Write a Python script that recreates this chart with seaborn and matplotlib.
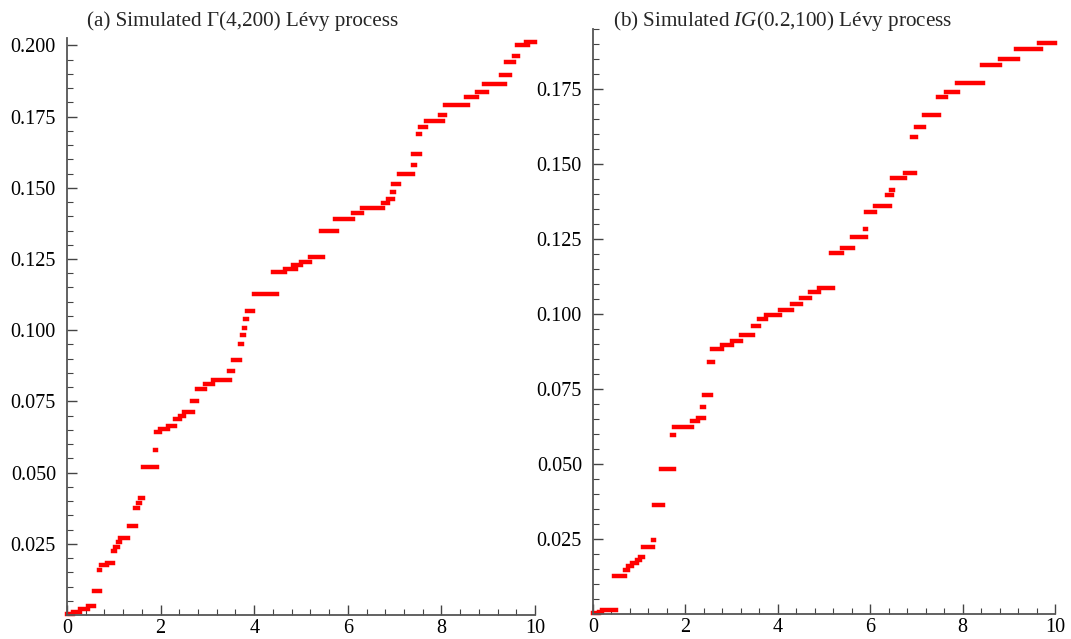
import numpy as np
import pandas as pd
import matplotlib
matplotlib.use("Agg")
import matplotlib.pyplot as plt
import seaborn as sns
from matplotlib.ticker import MultipleLocator

# ---- Panel (a): simulated Gamma(4,200) Levy process, read as flat runs ----
a_start = [0.00, 0.12, 0.28, 0.45, 0.58, 0.68, 0.72, 0.85, 0.98, 1.03, 1.08, 1.13,
           1.32, 1.45, 1.52, 1.57, 1.63, 1.88, 1.90, 1.98, 2.15, 2.30, 2.42, 2.50,
           2.68, 2.78, 2.95, 3.12, 3.46, 3.55, 3.70, 3.74, 3.78, 3.81, 3.84, 4.00,
           4.40, 4.65, 4.83, 5.00, 5.20, 5.42, 5.72, 6.12, 6.30, 6.75, 6.85, 6.95,
           6.97, 7.10, 7.40, 7.40, 7.50, 7.55, 7.67, 7.97, 8.08, 8.53, 8.75, 8.92,
           9.27, 9.38, 9.55, 9.62, 9.80]
a_end = [0.12, 0.28, 0.45, 0.58, 0.70, 0.70, 0.85, 0.98, 1.03, 1.08, 1.13, 1.30,
         1.47, 1.52, 1.57, 1.63, 1.92, 1.90, 1.98, 2.15, 2.30, 2.42, 2.50, 2.70,
         2.78, 2.95, 3.12, 3.48, 3.55, 3.70, 3.74, 3.78, 3.81, 3.84, 3.98, 4.49,
         4.65, 4.90, 5.00, 5.20, 5.47, 5.77, 6.12, 6.30, 6.75, 6.85, 6.97, 6.99,
         7.10, 7.40, 7.43, 7.55, 7.55, 7.67, 8.03, 8.08, 8.57, 8.75, 8.97, 9.36,
         9.47, 9.55, 9.64, 9.85, 10.00]
a_level = [0.0005, 0.0012, 0.0020, 0.0030, 0.0085, 0.0159, 0.0175, 0.0183, 0.0225,
           0.0240, 0.0255, 0.0270, 0.0313, 0.0375, 0.0395, 0.0412, 0.0520, 0.0580,
           0.0643, 0.0653, 0.0662, 0.0688, 0.0700, 0.0712, 0.0750, 0.0795, 0.0810,
           0.0825, 0.0855, 0.0895, 0.0950, 0.0982, 0.1007, 0.1040, 0.1068, 0.1126,
           0.1205, 0.1215, 0.1228, 0.1240, 0.1256, 0.1348, 0.1390, 0.1412, 0.1428,
           0.1445, 0.1462, 0.1487, 0.1515, 0.1550, 0.1580, 0.1620, 0.1690, 0.1712,
           0.1733, 0.1757, 0.1790, 0.1820, 0.1838, 0.1865, 0.1897, 0.1942, 0.1963,
           0.2000, 0.2012]

# ---- Panel (b): simulated IG(0.2,100) Levy process ----
b_start = [0.00, 0.12, 0.20, 0.45, 0.69, 0.75, 0.85, 0.95, 1.02, 1.08, 1.29, 1.31,
           1.48, 1.72, 1.76, 2.14, 2.28, 2.37, 2.40, 2.50, 2.57, 2.80, 3.00, 3.20,
           3.46, 3.60, 3.75, 4.05, 4.30, 4.50, 4.70, 4.90, 5.15, 5.40, 5.60, 5.88,
           5.91, 6.10, 6.36, 6.46, 6.48, 6.75, 6.90, 7.00, 7.17, 7.46, 7.65, 7.88,
           8.42, 8.80, 9.15, 9.65]
b_end = [0.12, 0.20, 0.50, 0.69, 0.75, 0.85, 0.95, 1.02, 1.08, 1.30, 1.31, 1.52,
         1.75, 1.75, 2.14, 2.28, 2.40, 2.41, 2.55, 2.60, 2.80, 3.00, 3.20, 3.46,
         3.60, 3.75, 4.05, 4.30, 4.50, 4.70, 4.90, 5.20, 5.40, 5.63, 5.90, 5.91,
         6.10, 6.43, 6.47, 6.49, 6.75, 6.97, 7.00, 7.17, 7.49, 7.65, 7.90, 8.44,
         8.80, 9.20, 9.70, 10.00]
b_level = [0.0002, 0.0008, 0.0014, 0.0127, 0.0147, 0.0160, 0.0170, 0.0180, 0.0190,
           0.0225, 0.0247, 0.0365, 0.0483, 0.0597, 0.0622, 0.0642, 0.0652, 0.0690,
           0.0730, 0.0840, 0.0885, 0.0898, 0.0910, 0.0930, 0.0960, 0.0985, 0.0998,
           0.1015, 0.1035, 0.1055, 0.1075, 0.1088, 0.1203, 0.1220, 0.1257, 0.1283,
           0.1340, 0.1360, 0.1397, 0.1413, 0.1455, 0.1470, 0.1590, 0.1625, 0.1663,
           0.1722, 0.1740, 0.1770, 0.1830, 0.1850, 0.1883, 0.1902]

a_yticks = [0.025, 0.050, 0.075, 0.100, 0.125, 0.150, 0.175, 0.200]
b_yticks = [0.025, 0.050, 0.075, 0.100, 0.125, 0.150, 0.175]
x_ticks = [0, 2, 4, 6, 8, 10]

title_a = "(a) Simulated \u0393(4,200) L\u00e9vy process"
title_b = "(b) Simulated $IG$(0.2,100) L\u00e9vy process"


def runs_frame(starts, ends, levels):
    rows = []
    for i, (s, e, v) in enumerate(zip(starts, ends, levels)):
        rows.append((i, s, v))
        rows.append((i, e, v))
    return pd.DataFrame(rows, columns=["run", "t", "value"])


sns.set_style("ticks")
plt.rcParams.update({
    "font.family": ["Liberation Serif", "DejaVu Serif"],
    "mathtext.fontset": "custom",
    "mathtext.rm": "Liberation Serif",
    "mathtext.it": "Liberation Serif:italic",
    "mathtext.bf": "Liberation Serif:bold",
})

fig = plt.figure(figsize=(10.71, 6.39), dpi=100)
W, H = 1071, 639
ax_a = fig.add_axes([67 / W, 1 - 615 / H, 468 / W, 577 / H])
ax_b = fig.add_axes([593 / W, 1 - 614 / H, 462 / W, 585 / H])

panels = [
    (ax_a, runs_frame(a_start, a_end, a_level), 0.2026, a_yticks),
    (ax_b, runs_frame(b_start, b_end, b_level), 0.1950, b_yticks),
]

for ax, df, ymax, yticks in panels:
    sns.lineplot(data=df, x="t", y="value", units="run", estimator=None,
                 sort=False, color="#ff0000", linewidth=3.2,
                 solid_capstyle="projecting", ax=ax, legend=False)
    for ln in ax.lines:
        ln.set_clip_on(False)
    ax.set_xlim(0, 10)
    ax.set_ylim(0, ymax)
    ax.set_xticks(x_ticks)
    ax.set_xticklabels([str(v) for v in x_ticks])
    ax.xaxis.set_minor_locator(MultipleLocator(0.4))
    ax.set_yticks(yticks)
    ax.set_yticklabels([f"{v:.3f}" for v in yticks])
    ax.yaxis.set_minor_locator(MultipleLocator(0.005))
    ax.tick_params(which="both", direction="in", color="#444444",
                   labelcolor="black", labelsize=14.5)
    ax.tick_params(which="major", length=7, width=1.0)
    ax.tick_params(which="minor", length=4, width=0.8)
    ax.tick_params(axis="y", which="major", pad=8)
    ax.tick_params(axis="x", which="major", pad=3)
    sns.despine(ax=ax)
    for sp in ("left", "bottom"):
        ax.spines[sp].set_color("#555555")
        ax.spines[sp].set_linewidth(1.3)
    ax.set_xlabel("")
    ax.set_ylabel("")

fig.text(87 / W, 1 - 26 / H, title_a, fontsize=15.2, ha="left", va="baseline")
fig.text(613 / W, 1 - 26 / H, title_b, fontsize=15.2, ha="left", va="baseline")

fig.savefig("out.png", dpi=100)
